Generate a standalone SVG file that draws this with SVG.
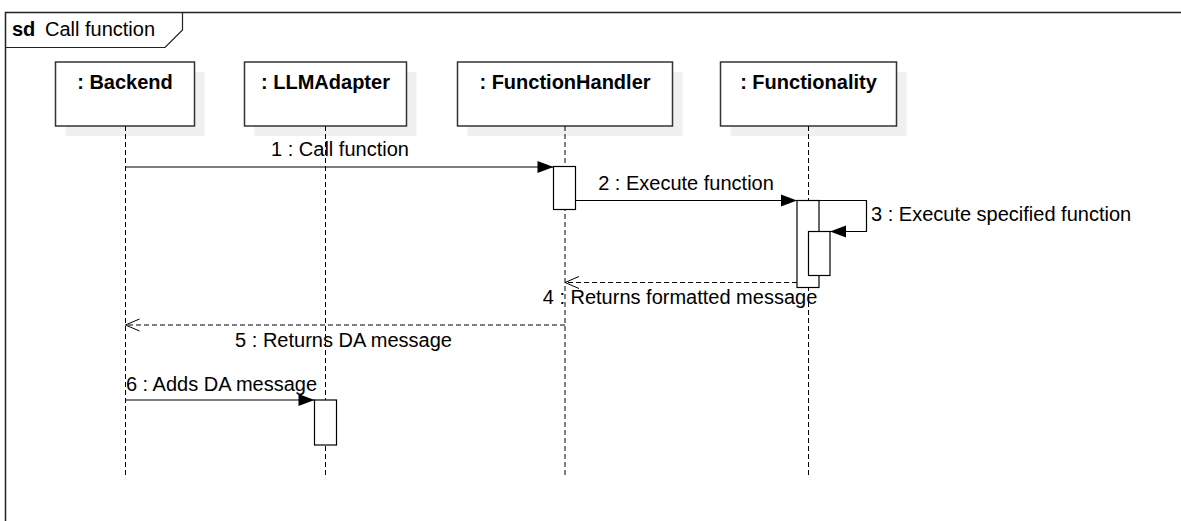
<svg xmlns="http://www.w3.org/2000/svg" width="1181" height="521" viewBox="0 0 1181 521">
<style>
text{font-family:"Liberation Sans",Arial,sans-serif;font-size:20px;fill:#000}
.b{font-weight:bold}
.box{fill:#fff;stroke:#333;stroke-width:1.5}
.sh{fill:#f0f0f0}
.life{stroke:#000;stroke-width:1;stroke-dasharray:5,3;fill:none}
.act{fill:#fff;stroke:#000;stroke-width:1.2}
.msg{stroke:#000;stroke-width:1.2;fill:none}
.ret{stroke:#000;stroke-width:1;fill:none;stroke-dasharray:5,3}
</style>
<defs>
<marker id="fill" markerUnits="userSpaceOnUse" markerWidth="17" markerHeight="13" refX="16" refY="6" orient="auto" overflow="visible"><path d="M0,0 L16,6 L0,12 z" fill="#000"/></marker>
<marker id="open" markerUnits="userSpaceOnUse" markerWidth="15" markerHeight="13" refX="14" refY="6" orient="auto" overflow="visible"><path d="M0,0 L14,6 L0,12" fill="none" stroke="#000" stroke-width="1"/></marker>
</defs>
<rect width="1181" height="521" fill="#fff"/>
<g id="frame">
<path d="M5.5,530 V12.5 H1190" fill="none" stroke="#222" stroke-width="1.5"/>
<path d="M5.5,47.5 H165 L182.5,30 V12.5" fill="none" stroke="#222" stroke-width="1.2"/>
<text x="12" y="36" class="b">sd</text>
<text x="45" y="36">Call function</text>
</g>
<g id="backend">
<rect class="sh" x="65.5" y="72" width="139" height="64"/>
<rect class="box" x="55.5" y="62" width="139" height="64"/>
<text x="125" y="89" class="b" text-anchor="middle">: Backend</text>
<line class="life" x1="125.5" y1="126" x2="125.5" y2="476"/>
</g>
<g id="llmadapter">
<rect class="sh" x="254.5" y="72" width="162" height="64"/>
<rect class="box" x="244.5" y="62" width="162" height="64"/>
<text x="325.5" y="89" class="b" text-anchor="middle">: LLMAdapter</text>
<line class="life" x1="325.5" y1="126" x2="325.5" y2="476"/>
<rect class="act" x="314.5" y="400" width="22" height="45"/>
</g>
<g id="functionhandler">
<rect class="sh" x="467.5" y="72" width="215" height="64"/>
<rect class="box" x="457.5" y="62" width="215" height="64"/>
<text x="565" y="89" class="b" text-anchor="middle">: FunctionHandler</text>
<line class="life" x1="565" y1="126" x2="565" y2="476"/>
<rect class="act" x="553.5" y="166.5" width="22" height="43"/>
</g>
<g id="functionality">
<rect class="sh" x="730.5" y="72" width="176" height="64"/>
<rect class="box" x="720.5" y="62" width="176" height="64"/>
<text x="808.5" y="89" class="b" text-anchor="middle">: Functionality</text>
<line class="life" x1="808.5" y1="126" x2="808.5" y2="476"/>
<rect class="act" x="797" y="200.5" width="22" height="87"/>
<rect class="act" x="808.5" y="231.5" width="21.5" height="44"/>
</g>
<g id="connectors">
<line class="msg" x1="125.5" y1="167" x2="553.5" y2="167" marker-end="url(#fill)"/>
<text x="340" y="156" text-anchor="middle">1 : Call function</text>
<line class="msg" x1="575.5" y1="200.5" x2="797" y2="200.5" marker-end="url(#fill)"/>
<text x="686" y="190" text-anchor="middle">2 : Execute function</text>
<path class="msg" d="M819,200.5 H866.5 V231.5 H830" marker-end="url(#fill)"/>
<text x="871" y="221">3 : Execute specified function</text>
<line class="ret" x1="797" y1="282.5" x2="565" y2="282.5" marker-end="url(#open)"/>
<text x="680" y="304" text-anchor="middle">4 : Returns formatted message</text>
<line class="ret" x1="565" y1="325" x2="125.5" y2="325" marker-end="url(#open)"/>
<text x="343.5" y="347" text-anchor="middle">5 : Returns DA message</text>
<line class="msg" x1="125.5" y1="400" x2="314.5" y2="400" marker-end="url(#fill)"/>
<text x="221.5" y="391" text-anchor="middle">6 : Adds DA message</text>
</g>
</svg>
